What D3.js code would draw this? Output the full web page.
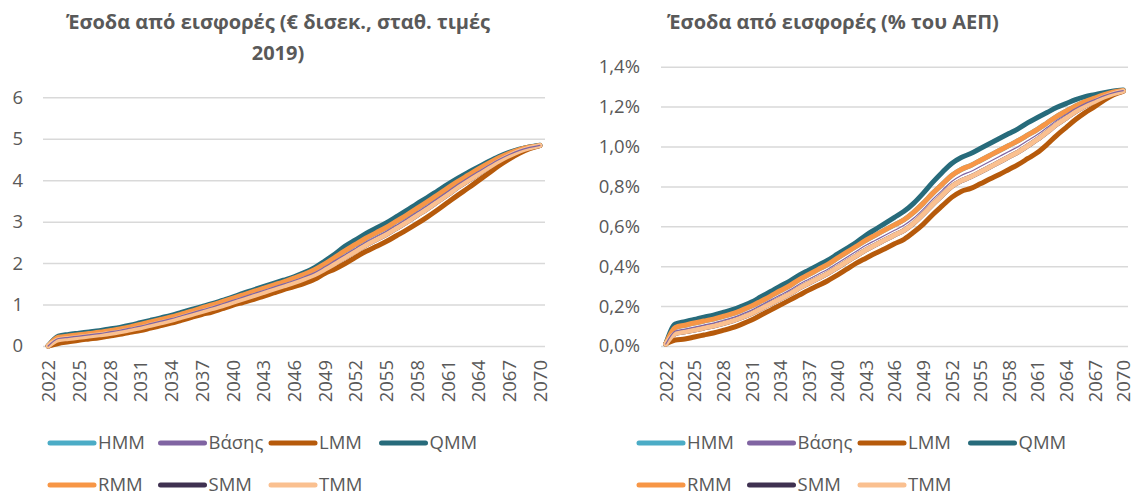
<!DOCTYPE html>
<html>
<head>
<meta charset="utf-8">
<script src="https://cdn.jsdelivr.net/npm/d3@7"></script>
<style>
  body { margin: 0; background: #fff; }
  text { font-family: "Open Sans", sans-serif; fill: #595959; }
</style>
</head>
<body>
<svg id="chart" width="1135" height="495"></svg>
<script>
const years = [2022,2023,2024,2025,2026,2027,2028,2029,2030,2031,2032,2033,2034,2035,2036,2037,2038,2039,2040,
  2041,2042,2043,2044,2045,2046,2047,2048,2049,2050,2051,2052,2053,2054,2055,2056,2057,2058,2059,2060,
  2061,2062,2063,2064,2065,2066,2067,2068,2069,2070];
const tickYears = [2022,2025,2028,2031,2034,2037,2040,2043,2046,2049,2052,2055,2058,2061,2064,2067,2070];

const seriesNames = ["HMM", "Βάσης", "LMM", "QMM", "RMM", "SMM", "TMM"];
const colors = {HMM: "#4bacc6", "Βάσης": "#8064a2", LMM: "#b65a0b", QMM: "#276b7b",
                RMM: "#f79646", SMM: "#3f3151", TMM: "#fac090"};

// € δισεκ., σταθ. τιμές 2019
const eurHMM   = [0.00,0.21,0.24,0.27,0.30,0.33,0.37,0.41,0.46,0.52,0.58,0.64,0.70,0.77,0.84,0.92,0.99,1.07,1.15,1.23,1.31,1.39,1.47,1.55,1.64,1.73,1.84,1.98,2.14,2.30,2.45,2.60,2.73,2.86,3.01,3.16,3.32,3.48,3.64,3.81,3.97,4.12,4.27,4.41,4.54,4.65,4.74,4.80,4.84];
const eurBase  = [0.00,0.18,0.21,0.24,0.27,0.30,0.34,0.38,0.43,0.48,0.54,0.60,0.66,0.73,0.80,0.87,0.94,1.02,1.10,1.18,1.26,1.34,1.42,1.50,1.58,1.67,1.77,1.91,2.06,2.21,2.36,2.51,2.64,2.77,2.92,3.07,3.23,3.39,3.56,3.73,3.90,4.06,4.21,4.36,4.50,4.62,4.72,4.79,4.84];
const eurLMM   = [0.00,0.06,0.10,0.14,0.17,0.20,0.24,0.28,0.33,0.37,0.43,0.49,0.55,0.62,0.69,0.76,0.82,0.90,0.98,1.05,1.12,1.20,1.28,1.36,1.43,1.51,1.61,1.75,1.86,1.99,2.14,2.28,2.40,2.52,2.66,2.80,2.95,3.11,3.28,3.46,3.64,3.81,3.99,4.17,4.35,4.51,4.65,4.76,4.835];
const eurQMM   = [0.00,0.24,0.28,0.31,0.34,0.37,0.41,0.45,0.50,0.56,0.62,0.68,0.74,0.81,0.88,0.95,1.02,1.10,1.18,1.27,1.35,1.43,1.51,1.59,1.67,1.77,1.89,2.05,2.22,2.41,2.56,2.71,2.84,2.97,3.12,3.27,3.43,3.58,3.74,3.90,4.05,4.19,4.32,4.45,4.57,4.67,4.75,4.805,4.845];
const eurRMM   = [0.00,0.21,0.24,0.27,0.30,0.33,0.37,0.41,0.46,0.52,0.58,0.64,0.70,0.77,0.84,0.92,0.99,1.07,1.15,1.23,1.31,1.39,1.47,1.55,1.64,1.73,1.84,1.98,2.14,2.30,2.45,2.60,2.73,2.86,3.01,3.16,3.32,3.48,3.64,3.81,3.97,4.12,4.27,4.41,4.54,4.65,4.74,4.80,4.84];
const eurSMM   = [0.00,0.15,0.18,0.21,0.24,0.27,0.30,0.34,0.39,0.44,0.50,0.56,0.62,0.69,0.76,0.83,0.90,0.97,1.05,1.13,1.21,1.29,1.37,1.45,1.53,1.62,1.72,1.85,1.99,2.14,2.28,2.43,2.56,2.69,2.84,2.99,3.15,3.31,3.48,3.65,3.83,3.99,4.15,4.31,4.46,4.59,4.70,4.78,4.835];
const eurTMM   = [0.00,0.15,0.18,0.21,0.24,0.27,0.30,0.34,0.39,0.44,0.50,0.56,0.62,0.69,0.76,0.83,0.90,0.97,1.05,1.13,1.21,1.29,1.37,1.45,1.53,1.62,1.72,1.85,1.99,2.14,2.28,2.43,2.56,2.69,2.84,2.99,3.15,3.31,3.48,3.65,3.83,3.99,4.15,4.31,4.46,4.59,4.70,4.78,4.835];

// % του ΑΕΠ
const gdpHMM   = [0.010,0.093,0.104,0.115,0.125,0.135,0.148,0.162,0.180,0.200,0.225,0.250,0.277,0.302,0.333,0.358,0.384,0.409,0.440,0.470,0.500,0.530,0.556,0.582,0.607,0.633,0.670,0.715,0.765,0.810,0.855,0.885,0.905,0.930,0.955,0.980,1.005,1.030,1.058,1.086,1.118,1.150,1.177,1.203,1.225,1.243,1.260,1.273,1.281];
const gdpBase  = [0.010,0.075,0.085,0.095,0.105,0.115,0.128,0.142,0.160,0.180,0.205,0.230,0.255,0.280,0.310,0.335,0.360,0.385,0.415,0.445,0.475,0.505,0.530,0.555,0.580,0.605,0.640,0.685,0.735,0.780,0.825,0.855,0.875,0.900,0.925,0.950,0.975,1.000,1.030,1.060,1.095,1.130,1.160,1.190,1.215,1.235,1.255,1.270,1.280];
const gdpLMM   = [0.010,0.030,0.035,0.045,0.055,0.065,0.078,0.092,0.110,0.130,0.155,0.180,0.205,0.230,0.255,0.280,0.303,0.327,0.355,0.385,0.415,0.440,0.465,0.488,0.512,0.535,0.570,0.610,0.658,0.702,0.745,0.775,0.790,0.813,0.837,0.860,0.885,0.910,0.940,0.970,1.010,1.055,1.095,1.135,1.170,1.200,1.233,1.260,1.277];
const gdpQMM   = [0.010,0.110,0.122,0.133,0.145,0.155,0.168,0.182,0.200,0.220,0.247,0.273,0.300,0.325,0.355,0.380,0.405,0.430,0.460,0.490,0.520,0.555,0.585,0.615,0.645,0.675,0.715,0.765,0.820,0.870,0.915,0.945,0.965,0.990,1.015,1.040,1.065,1.090,1.120,1.145,1.170,1.195,1.215,1.235,1.250,1.260,1.270,1.278,1.283];
const gdpRMM   = [0.010,0.093,0.104,0.115,0.125,0.135,0.148,0.162,0.180,0.200,0.225,0.250,0.277,0.302,0.333,0.358,0.384,0.409,0.440,0.470,0.500,0.530,0.556,0.582,0.607,0.633,0.670,0.715,0.765,0.810,0.855,0.885,0.905,0.930,0.955,0.980,1.005,1.030,1.058,1.086,1.118,1.150,1.177,1.203,1.225,1.243,1.260,1.273,1.281];
const gdpSMM   = [0.010,0.062,0.071,0.080,0.090,0.100,0.112,0.126,0.143,0.163,0.187,0.212,0.236,0.261,0.290,0.315,0.339,0.364,0.393,0.423,0.452,0.482,0.507,0.532,0.556,0.580,0.615,0.660,0.710,0.755,0.800,0.828,0.848,0.872,0.897,0.922,0.948,0.973,1.004,1.036,1.072,1.110,1.142,1.175,1.203,1.226,1.248,1.265,1.278];
const gdpTMM   = [0.010,0.062,0.071,0.080,0.090,0.100,0.112,0.126,0.143,0.163,0.187,0.212,0.236,0.261,0.290,0.315,0.339,0.364,0.393,0.423,0.452,0.482,0.507,0.532,0.556,0.580,0.615,0.660,0.710,0.755,0.800,0.828,0.848,0.872,0.897,0.922,0.948,0.973,1.004,1.036,1.072,1.110,1.142,1.175,1.203,1.226,1.248,1.265,1.278];

const eurTicks = [0,1,2,3,4,5,6];
const gdpTicks = [0,0.2,0.4,0.6,0.8,1.0,1.2,1.4];

const svg = d3.select("#chart");
const fmtPct = v => d3.format(".1f")(v).replace(".", ",") + "%";

function drawChart(cfg) {
  const g = svg.append("g");

  const x = d3.scalePoint().domain(years).range([cfg.x0, cfg.x1]).padding(0.5);
  const y = d3.scaleLinear().domain([0, cfg.yMax]).range([346, cfg.yTop]);

  // gridlines + y labels
  const yAxis = g.append("g")
    .attr("transform", `translate(${cfg.x0},0)`)
    .call(d3.axisLeft(y).tickValues(cfg.ticks).tickFormat(cfg.fmt)
      .tickSize(-(cfg.x1 - cfg.x0)).tickPadding(cfg.pad));
  yAxis.select(".domain").remove();
  yAxis.selectAll("line").attr("stroke", "#d9d9d9").attr("stroke-width", 1.5);
  yAxis.selectAll("text").attr("font-size", 18.5).attr("fill", "#595959")
    .style("font-family", "'Open Sans', sans-serif");

  // x labels (rotated)
  const xAxis = g.append("g")
    .attr("transform", "translate(0,346)")
    .call(d3.axisBottom(x).tickValues(tickYears).tickSize(0));
  xAxis.select(".domain").remove();
  xAxis.selectAll("text")
    .attr("font-size", 18.5).attr("fill", "#595959")
    .style("font-family", "'Open Sans', sans-serif")
    .attr("transform", "rotate(-90)")
    .attr("text-anchor", "end")
    .attr("x", -14).attr("y", 0).attr("dy", "0.35em");

  const line = d3.line()
    .x((d, i) => x(years[i]))
    .y(d => y(d))
    .curve(d3.curveMonotoneX);

  // hidden scenarios first, baseline drawn thin on top
  const order = ["HMM", "SMM", "LMM", "QMM", "RMM", "TMM", "Βάσης"];
  order.forEach(name => {
    g.append("path")
      .datum(cfg.data[name])
      .attr("fill", "none")
      .attr("stroke", colors[name])
      .attr("stroke-width", name === "Βάσης" ? 1.2 : 5)
      .attr("stroke-linecap", "round")
      .attr("stroke-linejoin", "round")
      .attr("d", line);
  });

  // title
  const title = g.append("text")
    .attr("text-anchor", "middle")
    .attr("font-size", 20)
    .attr("font-weight", "bold");
  cfg.title.forEach((t, i) => {
    title.append("tspan").attr("x", cfg.titleX).attr("y", 29 + i * 31).text(t);
  });

  // legend
  const rows = [["HMM", "Βάσης", "LMM", "QMM"], ["RMM", "SMM", "TMM"]];
  rows.forEach((row, r) => {
    row.forEach((name, c) => {
      const lx = cfg.legendX + c * 110.5;
      const ly = 443 + r * 42;
      g.append("line")
        .attr("x1", lx + 2).attr("x2", lx + 46)
        .attr("y1", ly).attr("y2", ly)
        .attr("stroke", colors[name]).attr("stroke-width", 5)
        .attr("stroke-linecap", "round");
      g.append("text")
        .attr("x", lx + 50).attr("y", ly)
        .attr("dy", "0.35em")
        .attr("font-size", 18.5)
        .text(name);
    });
  });
}

drawChart({
  x0: 43, x1: 545, yTop: 97.3, yMax: 6, ticks: eurTicks, fmt: d3.format("d"), pad: 20,
  title: ["Έσοδα από εισφορές (€ δισεκ., σταθ. τιμές", "2019)"], titleX: 278,
  legendX: 48,
  data: {HMM: eurHMM, "Βάσης": eurBase, LMM: eurLMM, QMM: eurQMM, RMM: eurRMM, SMM: eurSMM, TMM: eurTMM}
});

drawChart({
  x0: 661, x1: 1128, yTop: 66.7, yMax: 1.4, ticks: gdpTicks, fmt: fmtPct, pad: 21,
  title: ["Έσοδα από εισφορές (% του ΑΕΠ)"], titleX: 833,
  legendX: 637,
  data: {HMM: gdpHMM, "Βάσης": gdpBase, LMM: gdpLMM, QMM: gdpQMM, RMM: gdpRMM, SMM: gdpSMM, TMM: gdpTMM}
});
</script>
</body>
</html>
